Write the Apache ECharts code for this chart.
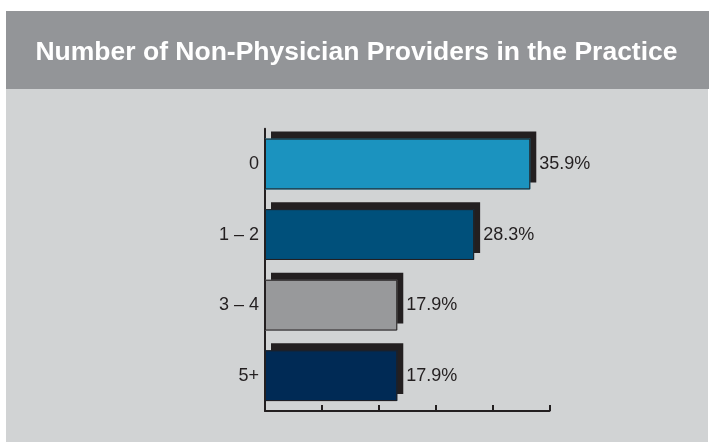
<!DOCTYPE html>
<html>
<head>
<meta charset="utf-8">
<script src="https://cdn.jsdelivr.net/npm/echarts@6/dist/echarts.min.js"></script>
<style>
html,body{margin:0;padding:0;background:#ffffff;}
#chart{width:709px;height:442px;}
</style>
</head>
<body>
<div id="chart"></div>
<script>
var titleText = 'Number of Non-Physician Providers in the Practice';
var categories = ['0', '1 \u2013 2', '3 \u2013 4', '5+'];
var values = [35.9, 28.3, 17.9, 17.9];
var valueLabels = ['35.9%', '28.3%', '17.9%', '17.9%'];

var barColors = ['#1b93bf', '#00507b', '#98999b', '#002a55'];
var ink = '#231f20';

var chart = echarts.init(document.getElementById('chart'), null, {renderer: 'canvas'});
chart.setOption({
  animation: false,
  backgroundColor: '#ffffff',
  graphic: [
    {type: 'rect', z: -10, shape: {x: 6, y: 11, width: 703, height: 78}, style: {fill: '#939598'}},
    {type: 'rect', z: -10, shape: {x: 6, y: 89, width: 702, height: 353}, style: {fill: '#d1d3d4'}},
    {type: 'text', z: 10, x: 356.5, y: 53, style: {
      text: titleText, fill: '#ffffff', font: 'bold 26.5px "Liberation Sans", Arial, sans-serif',
      textAlign: 'center', textVerticalAlign: 'middle'
    }}
  ],
  grid: {left: 265, right: 159.5, top: 128.7, bottom: 31, containLabel: false},
  xAxis: {
    type: 'value', min: 0, max: 38.5, interval: 7.7,
    axisLine: {show: true, lineStyle: {color: ink, width: 2}},
    axisTick: {show: true, inside: true, length: 6, lineStyle: {color: ink, width: 2}},
    axisLabel: {show: false},
    splitLine: {show: false}
  },
  yAxis: {
    type: 'category', inverse: true, data: categories,
    axisLine: {show: true, lineStyle: {color: ink, width: 2}},
    axisTick: {show: false},
    axisLabel: {color: ink, fontSize: 18, margin: 6, fontFamily: '"Liberation Sans", Arial, sans-serif'}
  },
  series: [{
    type: 'bar',
    barWidth: '72%',
    barGap: '-100%',
    data: values.map(function (v, i) {
      return {value: v, itemStyle: {color: barColors[i]}};
    }),
    itemStyle: {
      borderWidth: 0,
      shadowColor: ink, shadowBlur: 0, shadowOffsetX: 6, shadowOffsetY: -7
    },
    label: {
      show: true, position: 'right', distance: 9, color: ink, fontSize: 18,
      fontFamily: '"Liberation Sans", Arial, sans-serif',
      formatter: function (p) { return valueLabels[p.dataIndex]; }
    }
  }, {
    type: 'bar',
    barWidth: '72%',
    barGap: '-100%',
    silent: true,
    data: values,
    itemStyle: {color: 'rgba(0,0,0,0)', borderColor: ink, borderWidth: 1},
    label: {show: false}
  }]
});
</script>
</body>
</html>
